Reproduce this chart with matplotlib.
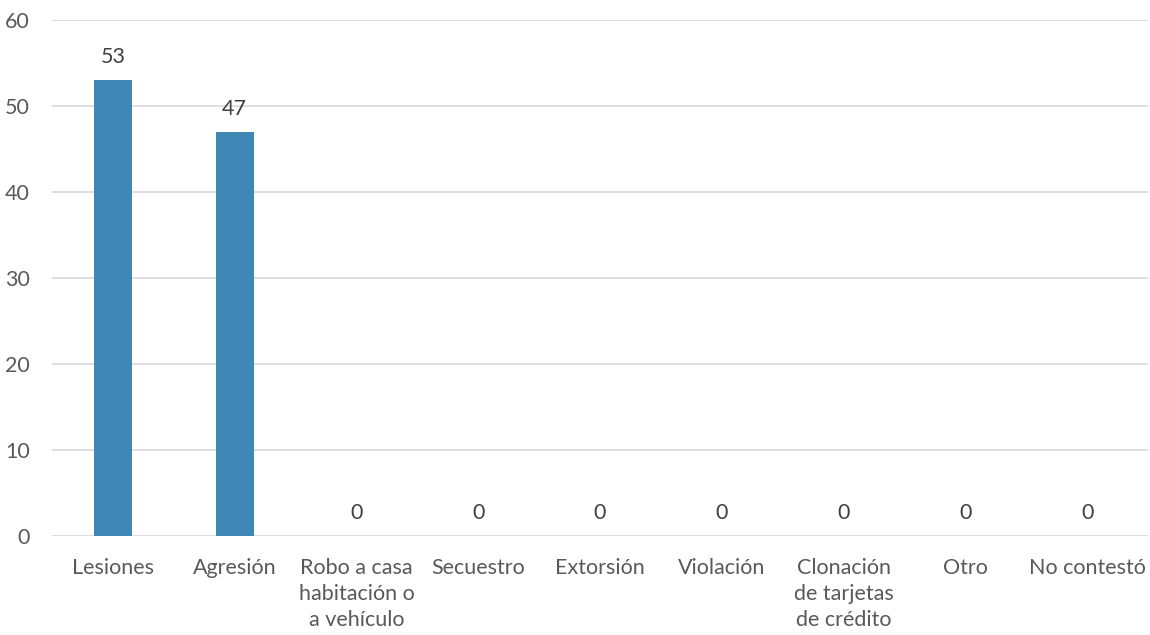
import matplotlib.pyplot as plt

categories = [
    "Lesiones",
    "Agresión",
    "Robo a casa\nhabitación o\na vehículo",
    "Secuestro",
    "Extorsión",
    "Violación",
    "Clonación\nde tarjetas\nde crédito",
    "Otro",
    "No contestó",
]
values = [53, 47, 0, 0, 0, 0, 0, 0, 0]
y_ticks = [0, 10, 20, 30, 40, 50, 60]

plt.rcParams["font.family"] = ["Lato", "DejaVu Sans"]
text_color = "#595959"
fs = 15.5

fig = plt.figure(figsize=(11.5, 6.35), dpi=100)
ax = fig.add_axes([52 / 1150, 99 / 635, 1096 / 1150, 516 / 635])

x = list(range(len(categories)))
ax.bar(x, values, width=0.31, color="#3F88B5", zorder=3)

for xi, v in zip(x, values):
    ax.annotate(str(v), (xi, v), xytext=(0, 9.5), textcoords="offset points",
                ha="center", va="bottom", fontsize=fs, color="#404040")

ax.set_xlim(-0.5, len(categories) - 0.5)
ax.set_ylim(0, 60)
ax.set_yticks(y_ticks)
ax.set_xticks(x)
ax.set_xticklabels(categories, fontsize=fs, color=text_color, linespacing=1.38)
ax.tick_params(axis="y", labelsize=fs, labelcolor=text_color, length=0, pad=16)
ax.tick_params(axis="x", length=0, pad=16)

ax.grid(axis="y", color="#D9D9D9", linewidth=1.2, zorder=0)
for side in ["top", "right", "left", "bottom"]:
    ax.spines[side].set_visible(False)

fig.savefig("out.png", dpi=100)
